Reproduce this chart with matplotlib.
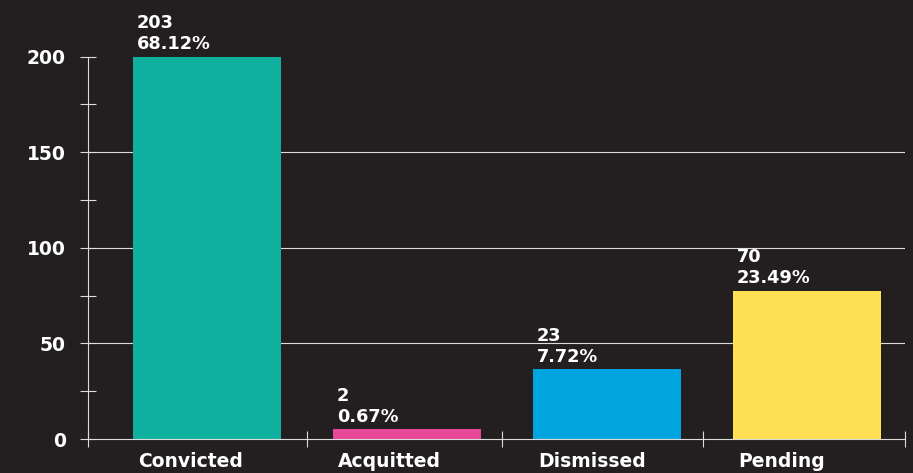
"""Case outcomes bar chart on a dark background."""

import matplotlib

matplotlib.use("Agg")
import matplotlib.pyplot as plt
import numpy as np

categories = ["Convicted", "Acquitted", "Dismissed", "Pending"]
# bar heights as drawn in the source chart (they do not follow the counts exactly)
bar_heights = [200.3, 5.1, 36.5, 77.5]
counts = [203, 2, 23, 70]
percents = ["68.12%", "0.67%", "7.72%", "23.49%"]
colors = ["#10b09f", "#e8479a", "#00a5e0", "#ffe055"]

BG = "#231f20"
LINE = "#dcdcdc"

plt.rcParams["font.family"] = ["DejaVu Sans"]
plt.rcParams["font.weight"] = "bold"

fig = plt.figure(figsize=(9.13, 4.73), dpi=100, facecolor=BG)
ax = fig.add_axes([88 / 913, 1 - 439 / 473, 817 / 913, (439 - 56.7) / 473])
ax.set_facecolor(BG)

x = np.arange(len(categories))
width = 0.737
bars = ax.bar(x, bar_heights, width=width, color=colors, zorder=3)

for level in (50, 100, 150):
    ax.axhline(level, color=LINE, lw=0.8, zorder=1)

ax.set_xlim(-0.595, 3.49)
ax.set_ylim(0, 200)

for side in ("top", "right"):
    ax.spines[side].set_visible(False)
for side in ("left", "bottom"):
    ax.spines[side].set_color(LINE)
    ax.spines[side].set_linewidth(0.8)
    ax.spines[side].set_zorder(4)

ax.set_yticks([0, 50, 100, 150, 200])
ax.set_yticks([25, 75, 125, 175], minor=True)
ax.tick_params(axis="y", which="both", direction="inout", length=12.2, width=0.8,
               color=LINE, labelcolor="white", labelsize=13.5, pad=10)
for lbl in ax.get_yticklabels():
    lbl.set_fontweight("bold")

ax.set_xticks([-0.595, 0.5, 1.475, 2.478, 3.49])
ax.set_xticklabels([])
ax.tick_params(axis="x", which="major", direction="inout", length=11.5, width=0.8, color=LINE)

for rect, n, pct, name in zip(bars, counts, percents, categories):
    left = rect.get_x()
    ax.annotate(f"{n}\n{pct}", xy=(left, rect.get_height()), xytext=(2.5, 2.5),
                textcoords="offset points", ha="left", va="bottom", color="white",
                fontsize=12.8, fontweight="bold", linespacing=1.22,
                annotation_clip=False)
    ax.annotate(name, xy=(left, 0), xytext=(3.5, -9.5), textcoords="offset points",
                ha="left", va="top", color="white", fontsize=13.5, fontweight="bold",
                annotation_clip=False)

fig.savefig("out.png", dpi=100, facecolor=BG)
